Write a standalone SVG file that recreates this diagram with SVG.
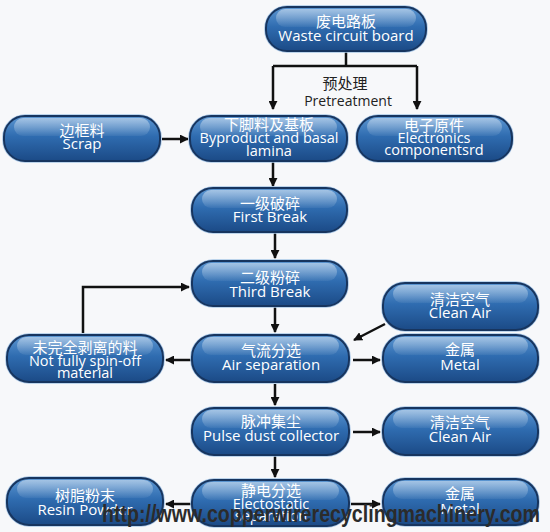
<svg xmlns="http://www.w3.org/2000/svg" width="550" height="532" viewBox="0 0 550 532">
<defs>
<linearGradient id="body" x1="0" y1="0" x2="0" y2="1">
<stop offset="0" stop-color="#5d97d2"/>
<stop offset="0.45" stop-color="#2f6cb0"/>
<stop offset="1" stop-color="#1b4a86"/>
</linearGradient>
<linearGradient id="gloss" x1="0" y1="0" x2="0" y2="1">
<stop offset="0" stop-color="#ffffff" stop-opacity="0.45"/>
<stop offset="1" stop-color="#ffffff" stop-opacity="0.05"/>
</linearGradient>
<marker id="ah" viewBox="0 0 10 10" refX="9" refY="5" markerWidth="9" markerHeight="9" markerUnits="userSpaceOnUse" orient="auto">
<path d="M0,0 L10,5 L0,10 z" fill="#111"/>
</marker>
</defs>
<style>
.bg{fill:#f7f8fa}
.pill{fill:url(#body);stroke:#17355f;stroke-width:2}
.halo{fill:none;stroke:#a9c7e6;stroke-width:1.5}
.gl{fill:url(#gloss)}
.t{font-family:"Open Sans","Noto Sans CJK SC",sans-serif;font-size:15px;fill:#ffffff;text-anchor:middle}
.s{font-size:14.5px}
.z{font-family:"Noto Sans CJK SC",sans-serif;font-size:15px;fill:#ffffff;text-anchor:middle}
.lbl{font-family:"Open Sans","Noto Sans CJK SC",sans-serif;font-size:14px;fill:#222;text-anchor:middle}
.lz{font-family:"Noto Sans CJK SC",sans-serif;font-size:15px;fill:#222;text-anchor:middle}
.c{fill:none;stroke:#111;stroke-width:2.5}
.wm{font-family:"Liberation Sans",sans-serif;font-weight:bold;font-size:23px;fill:#2b2b2b}
</style>
<rect class="bg" x="0" y="0" width="550" height="532"/>

<g id="connectors">
<path class="c" d="M346,51 V66 M273,66 H417"/>
<path class="c" d="M273,66 V109" marker-end="url(#ah)"/>
<path class="c" d="M417,66 V109" marker-end="url(#ah)"/>
<path class="c" d="M162,139 H188" marker-end="url(#ah)"/>
<path class="c" d="M273,162 V186" marker-end="url(#ah)"/>
<path class="c" d="M275,233 V258" marker-end="url(#ah)"/>
<path class="c" d="M83,333 V287 H189" marker-end="url(#ah)"/>
<path class="c" d="M275,307 V332" marker-end="url(#ah)"/>
<path class="c" d="M385,324 L354,340" marker-end="url(#ah)"/>
<path class="c" d="M191,360 H166" marker-end="url(#ah)"/>
<path class="c" d="M353,360 H380" marker-end="url(#ah)"/>
<path class="c" d="M275,384 V405" marker-end="url(#ah)"/>
<path class="c" d="M353,432 H380" marker-end="url(#ah)"/>
<path class="c" d="M275,456 V477" marker-end="url(#ah)"/>
<path class="c" d="M191,504 H166" marker-end="url(#ah)"/>
<path class="c" d="M351,504 H380" marker-end="url(#ah)"/>
</g>

<g id="pretreatment-label">
<text class="lz" x="345" y="89">预处理</text>
<text class="lbl" x="348" y="106">Pretreatment</text>
</g>

<g id="n-waste">
<rect class="halo" x="265" y="6" width="162" height="46" rx="22"/>
<rect class="pill" x="266" y="7" width="160" height="44" rx="21"/>
<rect class="gl" x="276" y="9" width="140" height="18" rx="9"/>
<text class="z" x="346" y="27">废电路板</text>
<text class="t" x="346" y="41">Waste circuit board</text>
</g>

<g id="n-scrap">
<rect class="halo" x="3" y="115" width="158" height="47" rx="22"/>
<rect class="pill" x="4" y="116" width="156" height="45" rx="21"/>
<rect class="gl" x="14" y="118" width="136" height="18" rx="9"/>
<text class="z" x="82" y="136">边框料</text>
<text class="t" x="82" y="149">Scrap</text>
</g>

<g id="n-byproduct">
<rect class="halo" x="189" y="115" width="159" height="47" rx="22"/>
<rect class="pill" x="190" y="116" width="157" height="45" rx="21"/>
<rect class="gl" x="200" y="118" width="137" height="18" rx="9"/>
<text class="z" x="269" y="130">下脚料及基板</text>
<text class="t s" x="269" y="143">Byproduct and basal</text>
<text class="t s" x="269" y="156">lamina</text>
</g>

<g id="n-electronics">
<rect class="halo" x="356" y="115" width="157" height="47" rx="22"/>
<rect class="pill" x="357" y="116" width="155" height="45" rx="21"/>
<rect class="gl" x="367" y="118" width="135" height="18" rx="9"/>
<text class="z" x="434" y="131">电子原件</text>
<text class="t s" x="434" y="143">Electronics</text>
<text class="t s" x="434" y="155">componentsrd</text>
</g>

<g id="n-first">
<rect class="halo" x="191" y="187" width="157" height="46" rx="22"/>
<rect class="pill" x="192" y="188" width="155" height="44" rx="21"/>
<rect class="gl" x="202" y="190" width="135" height="18" rx="9"/>
<text class="z" x="270" y="209">一级破碎</text>
<text class="t" x="270" y="222">First Break</text>
</g>

<g id="n-third">
<rect class="halo" x="191" y="260" width="157" height="47" rx="22"/>
<rect class="pill" x="192" y="261" width="155" height="45" rx="21"/>
<rect class="gl" x="202" y="263" width="135" height="18" rx="9"/>
<text class="z" x="270" y="283">二级粉碎</text>
<text class="t" x="270" y="297">Third Break</text>
</g>

<g id="n-notfully">
<rect class="halo" x="6" y="334" width="158" height="49" rx="23"/>
<rect class="pill" x="7" y="335" width="156" height="47" rx="22"/>
<rect class="gl" x="17" y="337" width="136" height="18" rx="9"/>
<text class="z" x="85" y="353">未完全剥离的料</text>
<text class="t s" x="85" y="366">Not fully spin-off</text>
<text class="t s" x="85" y="378">material</text>
</g>

<g id="n-airsep">
<rect class="halo" x="191" y="334" width="159" height="49" rx="23"/>
<rect class="pill" x="192" y="335" width="157" height="47" rx="22"/>
<rect class="gl" x="202" y="337" width="137" height="18" rx="9"/>
<text class="z" x="271" y="356">气流分选</text>
<text class="t" x="271" y="370">Air separation</text>
</g>

<g id="n-cleanair1">
<rect class="halo" x="382" y="282" width="157" height="49" rx="23"/>
<rect class="pill" x="383" y="283" width="155" height="47" rx="22"/>
<rect class="gl" x="393" y="285" width="135" height="18" rx="9"/>
<text class="z" x="460" y="305">清洁空气</text>
<text class="t" x="460" y="318">Clean Air</text>
</g>

<g id="n-metal1">
<rect class="halo" x="382" y="334" width="157" height="49" rx="23"/>
<rect class="pill" x="383" y="335" width="155" height="47" rx="22"/>
<rect class="gl" x="393" y="337" width="135" height="18" rx="9"/>
<text class="z" x="460" y="355">金属</text>
<text class="t" x="460" y="370">Metal</text>
</g>

<g id="n-pulse">
<rect class="halo" x="191" y="407" width="159" height="49" rx="23"/>
<rect class="pill" x="192" y="408" width="157" height="47" rx="22"/>
<rect class="gl" x="202" y="410" width="137" height="18" rx="9"/>
<text class="z" x="271" y="427">脉冲集尘</text>
<text class="t" x="271" y="441">Pulse dust collector</text>
</g>

<g id="n-cleanair2">
<rect class="halo" x="382" y="407" width="157" height="49" rx="23"/>
<rect class="pill" x="383" y="408" width="155" height="47" rx="22"/>
<rect class="gl" x="393" y="410" width="135" height="18" rx="9"/>
<text class="z" x="460" y="428">清洁空气</text>
<text class="t" x="460" y="442">Clean Air</text>
</g>

<g id="n-electrostatic">
<rect class="halo" x="191" y="479" width="159" height="48" rx="23"/>
<rect class="pill" x="192" y="480" width="157" height="46" rx="22"/>
<rect class="gl" x="202" y="482" width="137" height="18" rx="9"/>
<text class="z" x="271" y="496">静电分选</text>
<text class="t s" x="271" y="509">Electostatic</text>
<text class="t s" x="271" y="521">separation</text>
</g>

<g id="n-resin">
<rect class="halo" x="6" y="477" width="158" height="49" rx="23"/>
<rect class="pill" x="7" y="478" width="156" height="47" rx="22"/>
<rect class="gl" x="17" y="480" width="136" height="18" rx="9"/>
<text class="z" x="85" y="501">树脂粉末</text>
<text class="t" x="85" y="515">Resin Powder</text>
</g>

<g id="n-metal2">
<rect class="halo" x="382" y="478" width="157" height="48" rx="23"/>
<rect class="pill" x="383" y="479" width="155" height="46" rx="22"/>
<rect class="gl" x="393" y="481" width="135" height="18" rx="9"/>
<text class="z" x="460" y="499">金属</text>
<text class="t" x="460" y="514">Metal</text>
</g>

<text class="wm" x="102" y="522" textLength="438" lengthAdjust="spacingAndGlyphs">http://www.copperwirerecyclingmachinery.com</text>
</svg>
